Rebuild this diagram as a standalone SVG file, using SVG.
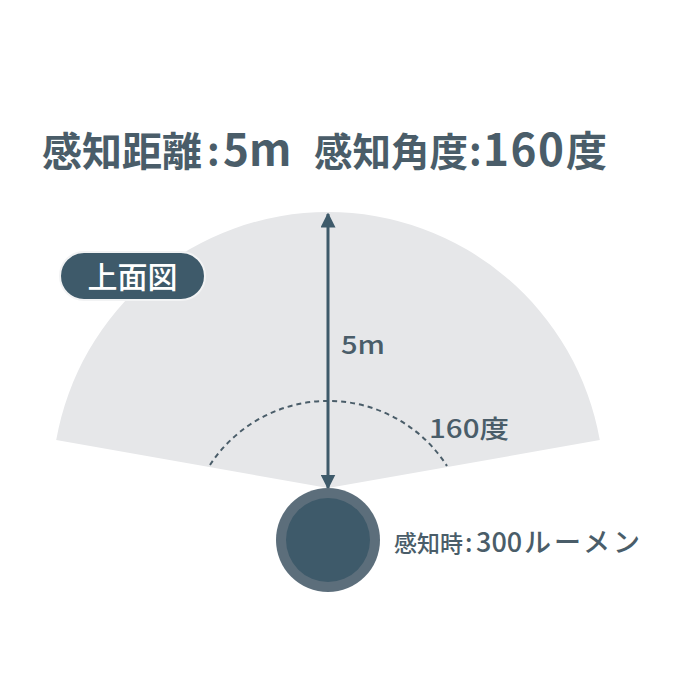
<svg xmlns="http://www.w3.org/2000/svg" width="700" height="700" viewBox="0 0 700 700">
<defs>
<style>
.t{font-family:"Noto Sans CJK JP","Noto Sans",sans-serif;fill:#4a5d69;}
.title{font-size:39px;font-weight:700;}
.num{font-size:44px;font-weight:600;}
.lbl{font-size:25px;font-weight:500;}
</style>
<marker id="ah" viewBox="0 0 10 10" refX="9" refY="5" markerWidth="5" markerHeight="5" orient="auto-start-reverse" markerUnits="strokeWidth">
<path d="M0,0 L10,5 L0,10 Z" fill="#3e5a6a"/>
</marker>
</defs>
<rect width="700" height="700" fill="#ffffff"/>
<g id="title">
<text class="t title" y="166"><tspan x="42" font-size="40">感知距離</tspan><tspan x="207">:</tspan><tspan x="223" class="num">5m</tspan><tspan x="314" font-size="38.5">感知角度</tspan><tspan x="469">:</tspan><tspan x="483" class="num" font-size="46" letter-spacing="1.5">160</tspan><tspan x="566" font-size="41">度</tspan></text>
</g>
<g id="fan">
<path d="M328 488 L56.2 440.1 A276 276 0 0 1 599.8 440.1 Z" fill="#e6e7e9"/>
</g>
<g id="angle">
<path d="M210 465 A141 141 0 0 1 447 466" fill="none" stroke="#4a5d69" stroke-width="2" stroke-dasharray="5 4"/>
<text class="t lbl" x="429" y="438" font-size="26" textLength="80" lengthAdjust="spacingAndGlyphs">160度</text>
</g>
<g id="topview">
<rect x="60" y="252" width="145" height="48" rx="24" fill="#3e5a6a" stroke="#f2f3f4" stroke-width="2"/>
<text x="132.5" y="288" text-anchor="middle" font-family="'Noto Sans CJK JP',sans-serif" font-size="30" font-weight="500" fill="#ffffff">上面図</text>
</g>
<g id="connectors">
<line x1="328" y1="214" x2="328" y2="488" stroke="#3e5a6a" stroke-width="3" marker-start="url(#ah)" marker-end="url(#ah)"/>
<text class="t lbl" x="341" y="354" font-size="27" textLength="44" lengthAdjust="spacingAndGlyphs">5m</text>
</g>
<g id="sensor">
<circle cx="328" cy="540" r="52" fill="#5c6e7b"/>
<circle cx="328" cy="540" r="42" fill="#3e5a6a"/>
<text class="t lbl" y="552"><tspan x="394" font-size="23">感知時</tspan><tspan x="465">:</tspan><tspan x="476" font-size="27">300</tspan><tspan x="524" font-size="27" letter-spacing="3">ルーメン</tspan></text>
</g>
</svg>
